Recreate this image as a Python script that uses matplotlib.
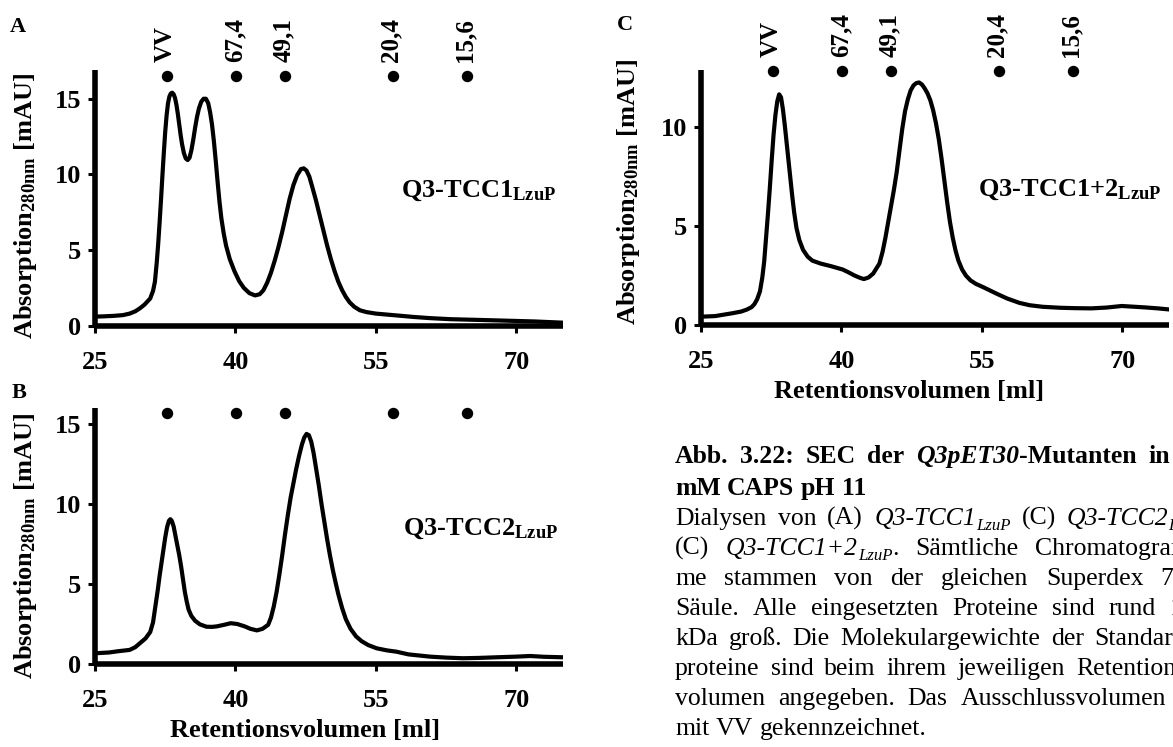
import matplotlib
matplotlib.use('Agg')
import matplotlib.pyplot as plt
from matplotlib.transforms import IdentityTransform
from matplotlib.font_manager import FontProperties

plt.rcParams['font.family'] = ['Liberation Serif', 'DejaVu Serif']
plt.rcParams['font.weight'] = 'bold'
plt.rcParams['mathtext.fontset'] = 'custom'
plt.rcParams['mathtext.bf'] = 'Liberation Serif:bold'
plt.rcParams['mathtext.rm'] = 'Liberation Serif:bold'
plt.rcParams['mathtext.it'] = 'Liberation Serif:bold:italic'
plt.rcParams['mathtext.default'] = 'bf'

# ---------------- data ----------------
vol_A = [25.0, 26.0, 27.0, 28.0, 28.7, 29.3, 29.8, 30.3, 30.9, 31.2, 31.4, 31.6, 31.75, 31.9,
         32.05, 32.2, 32.35, 32.5, 32.65, 32.8, 32.95, 33.1, 33.25, 33.4, 33.55, 33.7, 33.85,
         34.0, 34.15, 34.3, 34.5, 34.7, 34.9, 35.1, 35.3, 35.5, 35.7, 35.9, 36.1, 36.35, 36.6,
         36.85, 37.1, 37.3, 37.5, 37.7, 37.9, 38.1, 38.3, 38.5, 38.75, 39.0, 39.4, 39.9, 40.4,
         40.9, 41.5, 42.1, 42.6, 43.0, 43.4, 43.8, 44.2, 44.6, 45.0, 45.4, 45.8, 46.2, 46.6,
         47.0, 47.3, 47.6, 47.9, 48.2, 48.6, 49.0, 49.4, 49.8, 50.2, 50.6, 51.0, 51.4, 51.8,
         52.2, 52.7, 53.3, 54.0, 55.0, 57.2, 59.0, 60.8, 63.0, 66.1, 69.7, 72.0, 75.0]
abs_A = [0.60, 0.62, 0.65, 0.70, 0.80, 0.95, 1.15, 1.40, 1.80, 2.30, 2.90, 4.20, 5.40, 6.80,
         8.30, 9.90, 11.4, 12.8, 13.9, 14.7, 15.15, 15.35, 15.4, 15.3, 15.05, 14.6, 14.0,
         13.3, 12.6, 12.0, 11.4, 11.05, 10.95, 11.1, 11.6, 12.3, 13.1, 13.8, 14.35, 14.8, 15.0,
         15.0, 14.7, 14.1, 13.3, 12.2, 10.9, 9.5, 8.2, 7.1, 6.1, 5.3, 4.4, 3.6, 2.95,
         2.5, 2.15, 2.0, 2.08, 2.35, 2.85, 3.5, 4.3, 5.2, 6.2, 7.3, 8.4, 9.3, 9.95,
         10.35, 10.4, 10.25, 9.85, 9.2, 8.3, 7.3, 6.3, 5.3, 4.4, 3.6, 2.9, 2.35, 1.9,
         1.55, 1.25, 1.02, 0.90, 0.80, 0.68, 0.58, 0.50, 0.43, 0.38, 0.32, 0.28, 0.20]

vol_B = [25.0, 26.5, 27.5, 28.7, 29.3, 29.8, 30.4, 30.9, 31.2, 31.4, 31.7, 31.9, 32.1, 32.3,
         32.5, 32.7, 32.9, 33.05, 33.2, 33.4, 33.6, 33.8, 34.0, 34.2, 34.4, 34.6, 34.8, 35.0,
         35.3, 35.7, 36.2, 36.9, 37.5, 38.0, 38.8, 39.5, 40.2, 41.0, 41.6, 42.3, 42.9, 43.5,
         43.8, 44.1, 44.4, 44.7, 45.0, 45.3, 45.6, 45.9, 46.2, 46.5, 46.8, 47.1, 47.35, 47.6,
         47.85, 48.1, 48.35, 48.6, 48.9, 49.2, 49.5, 49.8, 50.1, 50.4, 50.7, 51.0, 51.4, 51.8,
         52.3, 52.9, 53.5, 54.2, 55.1, 56.2, 57.2, 58.5, 60.8, 62.5, 64.3, 66.0, 67.9, 70.0,
         71.5, 73.0, 75.0]
abs_B = [0.67, 0.72, 0.80, 0.88, 1.05, 1.30, 1.60, 2.00, 2.60, 3.40, 4.60, 5.50, 6.30, 7.10,
         7.90, 8.55, 8.95, 9.05, 8.95, 8.60, 8.00, 7.40, 6.80, 6.10, 5.30, 4.50, 3.90, 3.40,
         3.00, 2.70, 2.48, 2.33, 2.32, 2.35, 2.45, 2.55, 2.50, 2.35, 2.20, 2.10, 2.20, 2.45,
         2.90, 3.60, 4.50, 5.60, 6.80, 8.10, 9.30, 10.4, 11.3, 12.2, 13.0, 13.7, 14.15, 14.38,
         14.3, 13.9, 13.2, 12.3, 11.2, 10.0, 8.9, 7.8, 6.8, 5.9, 5.1, 4.35, 3.5, 2.8,
         2.2, 1.72, 1.42, 1.18, 0.98, 0.85, 0.77, 0.60, 0.46, 0.40, 0.36, 0.38, 0.42, 0.46,
         0.50, 0.45, 0.42]

vol_C = [25.0, 26.5, 28.3, 29.3, 29.9, 30.4, 30.7, 31.0, 31.3, 31.55, 31.75, 31.95, 32.15,
         32.35, 32.55, 32.75, 32.95, 33.15, 33.35, 33.55, 33.75, 33.95, 34.15, 34.35, 34.55,
         34.75, 34.95, 35.2, 35.5, 35.9, 36.4, 36.9, 37.8, 38.9, 40.15, 40.8, 41.4, 42.0, 42.4,
         42.9, 43.4, 44.06, 44.4, 44.7, 45.0, 45.3, 45.6, 45.9, 46.2, 46.5, 46.8, 47.1, 47.4,
         47.7, 48.0, 48.3, 48.6, 48.9, 49.2, 49.5, 49.8, 50.1, 50.4, 50.7, 51.0, 51.3, 51.6,
         51.9, 52.2, 52.5, 52.9, 53.3, 53.8, 54.4, 55.2, 56.5, 57.7, 59.0, 60.1, 61.5, 63.4,
         65.0, 66.7, 68.3, 69.95, 71.0, 72.4, 73.8, 74.9]
abs_C = [0.42, 0.45, 0.59, 0.68, 0.78, 0.90, 1.05, 1.30, 1.70, 2.40, 3.20, 4.40, 5.60,
         6.90, 8.30, 9.60, 10.6, 11.3, 11.65, 11.5, 10.9, 10.1, 9.2, 8.3, 7.4,
         6.5, 5.7, 4.9, 4.3, 3.8, 3.45, 3.25, 3.10, 2.97, 2.80, 2.65, 2.50, 2.38, 2.32,
         2.40, 2.60, 3.10, 3.70, 4.40, 5.20, 6.00, 6.80, 7.70, 8.80, 9.90, 10.8, 11.4, 11.85,
         12.1, 12.22, 12.25, 12.15, 11.95, 11.7, 11.35, 10.85, 10.2, 9.4, 8.4, 7.3, 6.2, 5.2,
         4.4, 3.75, 3.25, 2.80, 2.50, 2.25, 2.07, 1.90, 1.60, 1.34, 1.12, 1.00, 0.92, 0.87,
         0.85, 0.84, 0.88, 0.96, 0.93, 0.89, 0.84, 0.79]

std_vol = [32.7, 40.1, 45.3, 56.8, 64.7]
std_labels = ['VV', '67,4', '49,1', '20,4', '15,6']
x_ticks = [25, 40, 55, 70]
sample_names = ['Q3-TCC1', 'Q3-TCC2', 'Q3-TCC1+2']

W, H = 1173, 747
fig = plt.figure(figsize=(W / 100, H / 100), dpi=100)


def add_ax(left, bottom_px_from_top, top_px_from_top, width=468):
    return fig.add_axes([left / W, (H - bottom_px_from_top) / H,
                         width / W, (bottom_px_from_top - top_px_from_top) / H])


axA = add_ax(95, 325.7, 70)
axB = add_ax(95, 664, 408)
axC = add_ax(701, 325, 70)

panels = [
    (axA, vol_A, abs_A, 16.9, [0, 5, 10, 15], 16.5, True, False),
    (axB, vol_B, abs_B, 16.0, [0, 5, 10, 15], 15.7, False, True),
    (axC, vol_C, abs_C, 12.88, [0, 5, 10], 12.83, True, True),
]

for ax, xv, yv, ytop, yt, doty, lab, xlab in panels:
    ax.plot(xv, yv, color='black', lw=3.0, solid_joinstyle='round')
    ax.set_xlim(25, 75)
    ax.set_ylim(0, ytop)
    ax.set_xticks(x_ticks)
    ax.set_yticks(yt)
    for s in ['top', 'right']:
        ax.spines[s].set_visible(False)
    for s in ['left', 'bottom']:
        ax.spines[s].set_linewidth(4)
        ax.spines[s].set_capstyle('butt')
    ax.tick_params(axis='both', direction='out', length=5, width=2.2, labelsize=19)
    ax.tick_params(axis='x', pad=13)
    ax.tick_params(axis='y', pad=5)
    ax.set_facecolor('none')
    ax.plot(std_vol, [doty] * len(std_vol), 'o', color='black', ms=7.2, clip_on=False)
    if lab:
        for v, t in zip(std_vol, std_labels):
            ax.annotate(t, xy=(v, doty), xytext=(-1, 10), textcoords='offset points',
                        rotation=90, ha='center', va='bottom', fontsize=18,
                        fontweight='bold', annotation_clip=False)
    ax.set_ylabel('Absorption$_{280nm}$ [mAU]', fontsize=19, fontweight='bold')
    if xlab:
        ax.set_xlabel('Retentionsvolumen [ml]', fontsize=19, fontweight='bold')

axA.yaxis.set_label_coords(-0.12, 0.47)
axB.yaxis.set_label_coords(-0.12, 0.46)
axC.yaxis.set_label_coords(-0.126, 0.52)
axB.xaxis.set_label_coords(0.449, -0.215)
axC.xaxis.set_label_coords(0.444, -0.215)

ident = IdentityTransform()


def ftext(x, y_from_top, s, **kw):
    return fig.text(x, H - y_from_top, s, transform=ident, **kw)


# panel letters
ftext(10, 32, 'A', fontsize=16, fontweight='bold', va='baseline')
ftext(12, 398, 'B', fontsize=16, fontweight='bold', va='baseline')
ftext(617, 30, 'C', fontsize=16, fontweight='bold', va='baseline')

# sample labels
ftext(401, 197, sample_names[0] + '$_{LzuP}$', fontsize=19, fontweight='bold', va='baseline')
ftext(403, 535, sample_names[1] + '$_{LzuP}$', fontsize=19, fontweight='bold', va='baseline')
ftext(978, 196, sample_names[2] + '$_{LzuP}$', fontsize=19, fontweight='bold', va='baseline')

# ---------------- caption ----------------
renderer = fig.canvas.get_renderer()
FS = 18.5
STY = {
    'r': dict(weight='normal', style='normal', scale=1.0, drop=0.0),
    'i': dict(weight='normal', style='italic', scale=1.0, drop=0.0),
    'b': dict(weight='bold', style='normal', scale=1.0, drop=0.0),
    'bi': dict(weight='bold', style='italic', scale=1.0, drop=0.0),
    'isub': dict(weight='normal', style='italic', scale=0.65, drop=0.18),
}


def fprop(style):
    st = STY[style]
    return FontProperties(family='Liberation Serif', weight=st['weight'],
                          style=st['style'], size=FS * st['scale'])


def twidth(s, fp):
    w, h, d = renderer.get_text_width_height_descent(s, fp, ismath=False)
    return w


def draw_line(x0, ybase, runs, right=None):
    items = []
    for text, style in runs:
        parts = text.split(' ')
        for k, p in enumerate(parts):
            if k > 0:
                items.append(None)
            if p:
                items.append((p, style))
    fp_r = fprop(runs[0][1] if runs[0][1] in ('b', 'bi') else 'r')
    nat_sp = twidth('a a', fp_r) - twidth('aa', fp_r)
    widths = [twidth(it[0], fprop(it[1])) if it is not None else 0 for it in items]
    nsp = sum(1 for it in items if it is None)
    sp = nat_sp
    if right is not None and nsp > 0:
        sp = max(nat_sp, (right - x0 - sum(widths)) / nsp)
    x = x0
    for it, w in zip(items, widths):
        if it is None:
            x += sp
            continue
        s, style = it
        drop = STY[style]['drop'] * FS * 100 / 72
        fig.text(x, H - ybase - drop, s, transform=ident, fontproperties=fprop(style),
                 va='baseline', ha='left')
        x += w


CX = 675
cap_lines = [
    ([('Abb. 3.22: SEC der ', 'b'), ('Q3pET30', 'bi'), ('-Mutanten in 50', 'b')], 1207),
    ([('mM CAPS pH 11', 'b')], None),
    ([('Dialysen von (A) ', 'r'), ('Q3-TCC1', 'i'), ('LzuP', 'isub'), (' (C) ', 'r'),
      ('Q3-TCC2', 'i'), ('LzuP', 'isub')], 1203),
    ([('(C) ', 'r'), ('Q3-TCC1+2', 'i'), ('LzuP', 'isub'), ('. Sämtliche Chromatogram-', 'r')], 1200),
    ([('me stammen von der gleichen Superdex 75-', 'r')], 1195),
    ([('Säule. Alle eingesetzten Proteine sind rund 17', 'r')], 1195),
    ([('kDa groß. Die Molekulargewichte der Standard-', 'r')], 1195),
    ([('proteine sind beim ihrem jeweiligen Retentions-', 'r')], 1195),
    ([('volumen angegeben. Das Ausschlussvolumen ist', 'r')], 1203),
    ([('mit VV gekennzeichnet.', 'r')], None),
]
baselines = [463, 495, 525, 555, 585, 615, 645, 675, 705, 735]
for (runs, right), yb in zip(cap_lines, baselines):
    draw_line(CX, yb, runs, right)

fig.savefig('out.png', dpi=100)
